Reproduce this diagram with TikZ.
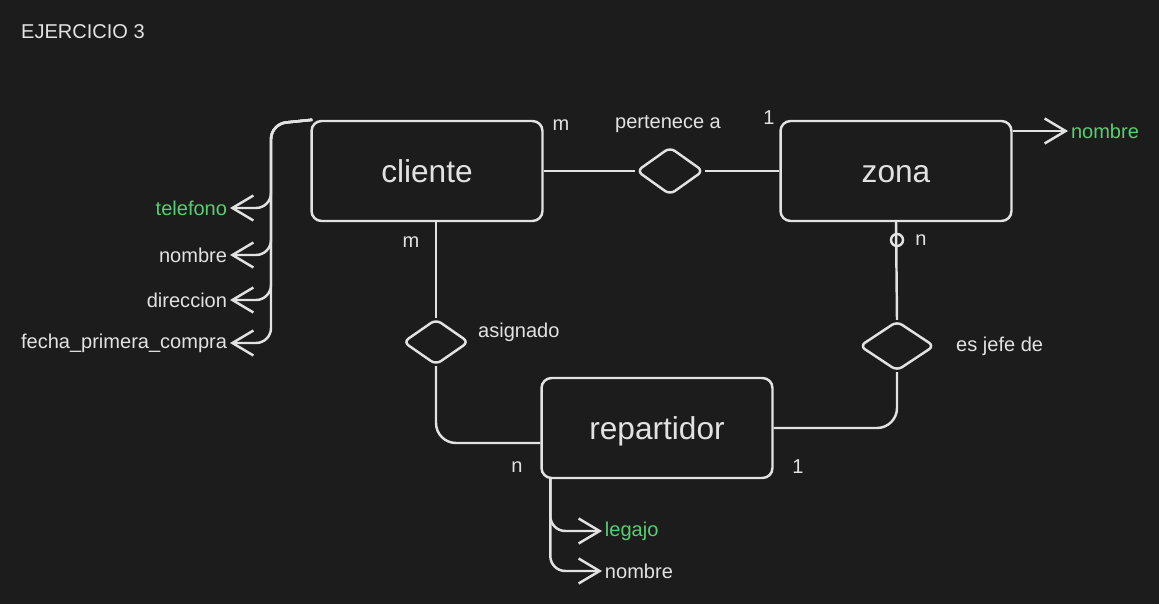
\documentclass[tikz,border=0pt]{standalone}
\usepackage{fontspec}
\setmainfont{Liberation Sans}
\usetikzlibrary{arrows.meta,shapes.geometric,positioning}
\definecolor{fondo}{HTML}{1C1C1C}
\definecolor{trazo}{HTML}{E2E2E2}
\definecolor{verde}{HTML}{58CE72}

\begin{document}
\begin{tikzpicture}[x=0.02cm, y=-0.02cm, line width=1.4pt, draw=trazo, text=trazo,
  font=\fontsize{11.4}{13}\selectfont,
  entidad/.style={rectangle, draw, rounded corners=0.2cm, minimum width=4.62cm, minimum height=2cm,
    text height=12.9pt, text depth=0pt, font=\fontsize{18}{22}\selectfont},
  relacion/.style={diamond, draw, rounded corners=0.12cm, inner sep=0pt},
  atrib/.style={inner sep=1pt},
  clave/.style={atrib, text=verde},
  flecha/.style={-{Straight Barb[length=0.42cm, width=0.5cm, line width=1.4pt]}, rounded corners=0.3cm}]
  \fill[fondo] (0,0) rectangle (1159,604);
  \useasboundingbox (0,0) rectangle (1159,604);

  \node[anchor=west, inner sep=0pt] (titulo) at (20,32) {EJERCICIO 3};

  % entidades
  \node[entidad] (cliente) at (427,171) {cliente};
  \node[entidad] (zona) at (896,171) {zona};
  \node[entidad] (repartidor) at (657,428) {repartidor};

  % relaciones
  \node[relacion, minimum width=1.34cm, minimum height=0.96cm] (pertenece) at (670,171) {};
  \node[relacion, minimum width=1.32cm, minimum height=0.92cm] (asignado) at (436,342) {};
  \node[relacion, minimum width=1.5cm, minimum height=1cm] (jefe) at (897,346) {};

  \node (lpert) at (668,124) {pertenece a};
  \node[anchor=west, inner sep=0pt] (lasig) at (477,332) {asignado};
  \node[anchor=west, inner sep=0pt] (ljefe) at (955,346) {es jefe de};

  % cardinalidades
  \node (c1) at (561,125) {m};
  \node (c2) at (769,118) {1};
  \node (c3) at (411,242) {m};
  \node (c4) at (921,240) {n};
  \node (c5) at (517,467) {n};
  \node (c6) at (798,467) {1};

  \draw (cliente.east) -- (pertenece.west);
  \draw (pertenece.east) -- (zona.west);
  \draw (cliente.south -| asignado.north) -- (asignado.north);
  \draw[rounded corners=0.4cm] (asignado.south) |- ([yshift=-0.3cm]repartidor.west);
  \draw (zona.south) -- (jefe.north);
  \draw[rounded corners=0.4cm] (jefe.south) |- (repartidor.east);
  \node[circle, draw, minimum size=0.24cm, inner sep=0pt] (opcional) at (897,240) {};

  % atributos cliente
  \node[clave, anchor=east] (telefono) at (230,208) {telefono};
  \node[atrib, anchor=east] (nombrecli) at (230,255) {nombre};
  \node[atrib, anchor=east] (direccion) at (230,300) {direccion};
  \node[atrib, anchor=east] (fecha) at (230,343) {fecha\_primera\_compra};
  \coordinate (tronco) at (271,124);
  \foreach \a in {telefono, nombrecli, direccion, fecha}
    \draw[flecha] ([xshift=0.04cm]cliente.north west) -- (tronco) |- (\a.east);

  % atributos zona
  \node[clave, anchor=west] (nombrezona) at (1068,131) {nombre};
  \draw[flecha] (nombrezona.west -| zona.east) -- (nombrezona.west);

  % atributos repartidor
  \node[clave, anchor=west] (legajo) at (602,531) {legajo};
  \node[atrib, anchor=west] (nombrerep) at (602,571) {nombre};
  \coordinate (troncorep) at ([xshift=0.2cm]repartidor.south west);
  \draw[flecha] (troncorep) |- (legajo.west);
  \draw[flecha] (troncorep) |- (nombrerep.west);
\end{tikzpicture}
\end{document}
